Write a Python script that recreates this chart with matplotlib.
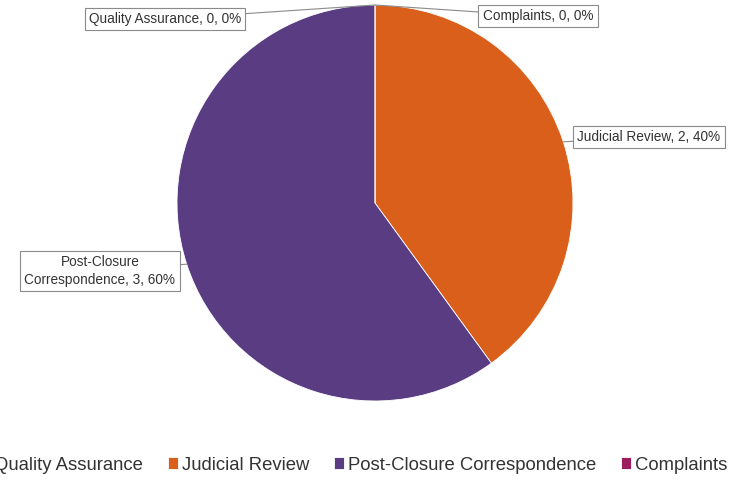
import numpy as np
import matplotlib.pyplot as plt

plt.rcParams['font.family'] = ['Liberation Sans', 'DejaVu Sans']

categories = ['Quality Assurance', 'Judicial Review', 'Post-Closure Correspondence', 'Complaints']
label_text = ['Quality Assurance', 'Judicial Review', 'Post-Closure\nCorrespondence', 'Complaints']
values = [0, 2, 3, 0]
colors = ['#2E6DB4', '#D95F1A', '#5A3C82', '#9C1C5E']

W, H = 752, 484
fig = plt.figure(figsize=(W / 100, H / 100), dpi=100)
ax = fig.add_axes([0, 0, 1, 1])

cx, cy, r = 375, H - 203, 198
wedges, _ = ax.pie(values, colors=colors, startangle=90, counterclock=False,
                   center=(cx, cy), radius=r, frame=True,
                   wedgeprops=dict(edgecolor='white', linewidth=0.6))
ax.set_xlim(0, W)
ax.set_ylim(0, H)
ax.set_aspect('equal')
ax.axis('off')

# label box centers (pixel coords from top)
box_pos = [(165, 19), (649, 137), (100, 271), (538, 16)]
total = sum(values)
for w, lab, v, (bx, by) in zip(wedges, label_text, values, box_pos):
    mid = np.deg2rad((w.theta1 + w.theta2) / 2)
    px, py = cx + r * np.cos(mid), cy + r * np.sin(mid)
    txt = f'{lab}, {v}, {v / total * 100:.0f}%'
    ax.annotate(txt, xy=(px, py), xytext=(bx, H - by), ha='center', va='center',
                fontsize=9.8, color='#333333', multialignment='center', linespacing=1.35,
                bbox=dict(boxstyle='square,pad=0.32', fc='white', ec='#8a8a8a', lw=0.8),
                arrowprops=dict(arrowstyle='-', color='#8a8a8a', lw=0.8,
                                shrinkA=0, shrinkB=0))

fig.legend(wedges, categories, loc='center', bbox_to_anchor=(354 / W, 1 - 465 / H),
           ncol=4, frameon=False, fontsize=13.3, handlelength=0.55, handleheight=0.55,
           handletextpad=0.2, columnspacing=1.35, labelcolor='#333333')

fig.savefig('out.png', dpi=100)
